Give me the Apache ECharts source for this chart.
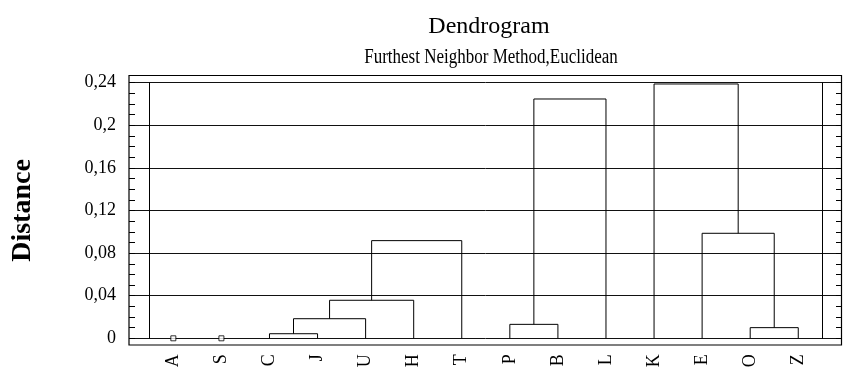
<!DOCTYPE html>
<html>
<head>
<meta charset="utf-8">
<script src="https://cdn.jsdelivr.net/npm/echarts@6/dist/echarts.min.js"></script>
<style>
  html, body { margin: 0; padding: 0; background: #fff; }
  #chart { width: 843px; height: 372px; }
</style>
</head>
<body>
<div id="chart"></div>
<script>
// Leaf order along the horizontal axis
const leaves = ['A', 'S', 'C', 'J', 'U', 'H', 'T', 'P', 'B', 'L', 'K', 'E', 'O', 'Z'];

// Agglomeration steps: '#n' refers to the cluster formed at step n
const linkLeft   = ['C', '#0', '#1', '#2', 'P', '#4', 'O', 'E', 'K'];
const linkRight  = ['J', 'U', 'H', 'T', 'B', 'L', 'Z', '#6', '#7'];
const linkHeight = [0.0043, 0.0184, 0.0357, 0.0917, 0.0131, 0.2247, 0.0100, 0.0986, 0.2388];

// Objects never merged within the plotted range
const singletons = ['A', 'S'];

// Distance axis
const yTickValues = [0, 0.04, 0.08, 0.12, 0.16, 0.2, 0.24];
const yMin = yTickValues[0];
const yMax = yTickValues[yTickValues.length - 1];
const yStep = yTickValues[1] - yTickValues[0];

const FONT = "'Liberation Serif', 'Times New Roman', serif";

// Position (in leaf units) and height of a node in the tree
function nodeOf(ref) {
  if (ref.charAt(0) === '#') {
    const i = Number(ref.slice(1));
    const a = nodeOf(linkLeft[i]);
    const b = nodeOf(linkRight[i]);
    return { pos: (a.pos + b.pos) / 2, h: linkHeight[i] };
  }
  return { pos: leaves.indexOf(ref), h: 0 };
}

function fmt(v) {
  return String(Number(v.toFixed(2))).replace('.', ',');
}

const chart = echarts.init(document.getElementById('chart'), null, { renderer: 'canvas' });

const outerGrid = { left: 129, right: 1, top: 82.7, bottom: 33.7 };
const innerGrid = { left: 149.3, right: 20.7, top: 82.7, bottom: 33.7 };

const option = {
  animation: false,
  backgroundColor: '#fff',
  title: {
    text: 'Dendrogram',
    left: 484,
    textAlign: 'center',
    top: 10,
    textStyle: { fontFamily: FONT, fontSize: 24, fontWeight: 'normal', color: '#000' }
  },
  graphic: [
    {
      type: 'text',
      x: 491,
      y: 48,
      scaleX: 0.85,
      style: {
        text: 'Furthest Neighbor Method,Euclidean',
        font: "20px 'Liberation Serif', 'Times New Roman', serif",
        fill: '#000',
        textAlign: 'center',
        textVerticalAlign: 'top'
      }
    },
    {
      type: 'rect',
      shape: { x: 129, y: 75.5, width: 712.5, height: 269.5 },
      style: { fill: null, stroke: '#000', lineWidth: 1.2 },
      z: 10
    }
  ],
  grid: [outerGrid, innerGrid],
  xAxis: [
    {
      gridIndex: 0,
      type: 'value',
      min: 0, max: 1,
      show: false
    },
    {
      gridIndex: 1,
      type: 'category',
      data: leaves,
      boundaryGap: true,
      axisLine: { show: false },
      axisTick: { show: false },
      splitLine: { show: false },
      axisLabel: {
        interval: 0,
        rotate: 90,
        margin: 16,
        fontFamily: FONT,
        fontSize: 18,
        color: '#000'
      }
    }
  ],
  yAxis: [
    {
      gridIndex: 0,
      type: 'value',
      min: yMin, max: yMax, interval: yStep,
      name: 'Distance',
      nameLocation: 'middle',
      nameGap: 92,
      nameTextStyle: { fontFamily: FONT, fontSize: 28, fontWeight: 'bold', color: '#000' },
      axisLine: { show: false },
      axisTick: { show: true, inside: true, length: 6, lineStyle: { color: '#000' } },
      minorTick: { show: true, splitNumber: 4, length: 6, lineStyle: { color: '#000' } },
      splitLine: { show: true, lineStyle: { color: '#111', width: 1 } },
      axisLabel: {
        margin: 13,
        fontFamily: FONT,
        fontSize: 18,
        color: '#000',
        formatter: fmt
      }
    },
    {
      gridIndex: 0,
      type: 'value',
      position: 'right',
      min: yMin, max: yMax, interval: yStep,
      axisLine: { show: false },
      axisTick: { show: true, inside: true, length: 6, lineStyle: { color: '#000' } },
      minorTick: { show: true, splitNumber: 4, length: 6, lineStyle: { color: '#000' } },
      splitLine: { show: false },
      axisLabel: { show: false }
    },
    {
      gridIndex: 1,
      type: 'value',
      min: yMin, max: yMax, interval: yStep,
      axisLine: { show: true, lineStyle: { color: '#000', width: 1 } },
      axisTick: { show: false },
      splitLine: { show: false },
      axisLabel: { show: false }
    },
    {
      gridIndex: 1,
      type: 'value',
      position: 'right',
      min: yMin, max: yMax, interval: yStep,
      axisLine: { show: true, lineStyle: { color: '#000', width: 1 } },
      axisTick: { show: false },
      splitLine: { show: false },
      axisLabel: { show: false }
    }
  ],
  series: [
    {
      type: 'custom',
      name: 'links',
      xAxisIndex: 1,
      yAxisIndex: 2,
      clip: false,
      data: linkHeight.map((h, i) => [i, h]),
      renderItem: function (params, api) {
        const i = params.dataIndex;
        const a = nodeOf(linkLeft[i]);
        const b = nodeOf(linkRight[i]);
        const h = api.value(1);
        const x0 = api.coord([0, 0])[0];
        const x1 = api.coord([1, 0])[0];
        const px = p => x0 + p * (x1 - x0);
        const py = v => api.coord([0, v])[1];
        return {
          type: 'polyline',
          shape: {
            points: [
              [px(a.pos), py(a.h)],
              [px(a.pos), py(h)],
              [px(b.pos), py(h)],
              [px(b.pos), py(b.h)]
            ]
          },
          style: { stroke: '#000', fill: null, lineWidth: 1 }
        };
      }
    },
    {
      type: 'scatter',
      name: 'singletons',
      xAxisIndex: 1,
      yAxisIndex: 2,
      clip: false,
      symbol: 'rect',
      symbolSize: 5,
      itemStyle: { color: '#fff', borderColor: '#000', borderWidth: 1 },
      data: singletons.map(n => [n, 0]),
      z: 5
    }
  ]
};

chart.setOption(option);
</script>
</body>
</html>
